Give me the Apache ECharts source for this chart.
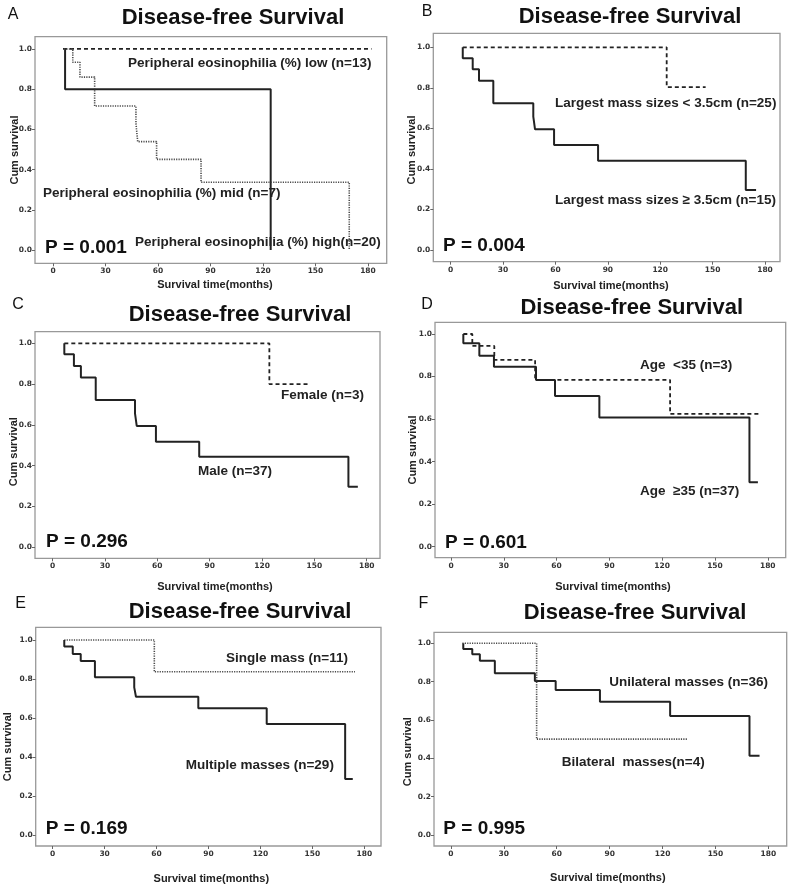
<!DOCTYPE html>
<html><head><meta charset="utf-8">
<script src="https://cdn.jsdelivr.net/npm/echarts@6/dist/echarts.min.js"></script>
<style>html,body{margin:0;padding:0;background:#fff}#c{width:800px;height:889px}</style>
</head><body><div id="c"></div>
<script>
// ---------- tick labels ----------
const xTicks = [0, 30, 60, 90, 120, 150, 180];
const yTicks = [0, 0.2, 0.4, 0.6, 0.8, 1.0];
const panelLetters = ['A', 'B', 'C', 'D', 'E', 'F'];
const panelTitle = 'Disease-free Survival';
const xTitle = 'Survival time(months)';
const yTitle = 'Cum survival';

// ---------- Panel A ----------
const A_low_t  = [5.7, 182];
const A_low_s  = [1.0, 1.0];
const A_mid_t  = [6.9, 6.9, 124.4, 124.4];
const A_mid_s  = [1.0, 0.8, 0.8, 0.0];
const A_high_t = [6.3, 11.3, 15.4, 23.8, 47.4, 48.4, 59.2, 84.6, 169.3];
const A_high_s = [1.0, 0.934, 0.86, 0.716, 0.63, 0.539, 0.451, 0.337, 0.0];
const A_labels = ['Peripheral eosinophilia (%) low (n=13)', 'Peripheral eosinophilia (%) mid (n=7)', 'Peripheral eosinophilia (%) high(n=20)'];
const A_p = 'P = 0.001';

// ---------- Panel B ----------
const B_small_t = [6.9, 123.7, 146];
const B_small_s = [1.0, 0.803, 0.803];
const B_large_t = [6.9, 6.9, 12.6, 16.2, 24.4, 47.3, 48.3, 59.2, 84.4, 169, 174.9];
const B_large_s = [1.0, 0.946, 0.891, 0.835, 0.724, 0.658, 0.595, 0.518, 0.44, 0.296, 0.296];
const B_labels = ['Largest mass sizes < 3.5cm (n=25)', 'Largest mass sizes \u2265 3.5cm (n=15)'];
const B_p = 'P = 0.004';

// ---------- Panel C ----------
const C_female_t = [6.7, 124.2, 146.6];
const C_female_s = [1.0, 0.8, 0.8];
const C_male_t = [6.7, 6.7, 12.2, 16.2, 24.7, 47.2, 48.2, 59.2, 84, 169.5, 174.9];
const C_male_s = [1.0, 0.946, 0.889, 0.833, 0.722, 0.657, 0.595, 0.518, 0.444, 0.297, 0.297];
const C_labels = ['Female (n=3)', 'Male (n=37)'];
const C_p = 'P = 0.296';

// ---------- Panel D ----------
const D_young_t = [7.0, 12.1, 24.6, 47.8, 124.5, 174.7];
const D_young_s = [1.0, 0.944, 0.878, 0.784, 0.624, 0.624];
const D_old_t = [7.0, 7.0, 16.1, 24.4, 48.3, 59.1, 84.3, 169.6, 174.4];
const D_old_s = [1.0, 0.956, 0.898, 0.846, 0.784, 0.708, 0.607, 0.303, 0.303];
const D_labels = ['Age  <35 (n=3)', 'Age  \u226535 (n=37)'];
const D_p = 'P = 0.601';

// ---------- Panel E ----------
const E_single_t = [6.7, 58.7, 174.6];
const E_single_s = [1.0, 0.837, 0.837];
const E_multi_t = [6.7, 6.7, 11.6, 16.2, 24.4, 47.1, 48.1, 84.1, 123.6, 168.9, 173.3];
const E_multi_s = [1.0, 0.966, 0.928, 0.892, 0.809, 0.757, 0.709, 0.65, 0.569, 0.287, 0.287];
const E_labels = ['Single mass (n=11)', 'Multiple masses (n=29)'];
const E_p = 'P = 0.169';

// ---------- Panel F ----------
const F_uni_t = [7.0, 7.0, 12.1, 16.4, 24.9, 47.6, 59.4, 84.5, 124.3, 169.3, 175];
const F_uni_s = [1.0, 0.97, 0.943, 0.909, 0.843, 0.803, 0.756, 0.695, 0.621, 0.414, 0.414];
const F_bi_t = [6.5, 48.6, 134];
const F_bi_s = [1.0, 0.5, 0.5];
const F_labels = ['Unilateral masses (n=36)', 'Bilateral  masses(n=4)'];
const F_p = 'P = 0.995';

// ---------- styles ----------
const FONT = '"Liberation Sans", Arial, sans-serif';
const TICKFONT = '"DejaVu Sans", "Liberation Sans", sans-serif';
const SOLID  = {color: '#222', width: 2, type: 'solid'};
const DASHED = {color: '#222', width: 1.8, type: [4, 3]};
const DOTTED = {color: '#4a4a4a', width: 1.6, type: [1.2, 1.2]};

function pairs(t, s) { return t.map((v, i) => [v, s[i]]); }

// layout per panel: box in pixels + axis extents
const layout = [
  {box:[35, 36.7, 351.7, 226.6], xr:[-10.29, 190.7], yr:[-0.066, 1.061], letter:[13,15], title:[233,18], xt:[215,285], yt:[15,150]},
  {box:[433.3, 33.3, 346.7, 228.4], xr:[-9.97, 188.6], yr:[-0.058, 1.069], letter:[427,12], title:[630,17], xt:[611,286], yt:[412,150]},
  {box:[35, 331.7, 345, 226.6], xr:[-10.1, 187.6], yr:[-0.054, 1.057], letter:[18,305], title:[240,315], xt:[215,587], yt:[14,451.7]},
  {box:[435, 322.3, 350.7, 235.4], xr:[-9.1, 190.2], yr:[-0.052, 1.055], letter:[427,305], title:[631.7,308.3], xt:[613,587], yt:[413,450]},
  {box:[35.7, 627.3, 345.3, 218.7], xr:[-9.8, 189.6], yr:[-0.056, 1.065], letter:[20.7,603.3], title:[240,611.7], xt:[211.3,879], yt:[8.3,746.7]},
  {box:[434, 632.3, 352.7, 213.7], xr:[-9.6, 190.4], yr:[-0.057, 1.057], letter:[423.3,603.3], title:[635,613.3], xt:[607.8,878.3], yt:[408.3,751.7]}
];

const panelSeries = [
  [[A_low_t, A_low_s, DASHED], [A_mid_t, A_mid_s, SOLID], [A_high_t, A_high_s, DOTTED]],
  [[B_small_t, B_small_s, DASHED], [B_large_t, B_large_s, SOLID]],
  [[C_female_t, C_female_s, DASHED], [C_male_t, C_male_s, SOLID]],
  [[D_young_t, D_young_s, DASHED], [D_old_t, D_old_s, SOLID]],
  [[E_single_t, E_single_s, DOTTED], [E_multi_t, E_multi_s, SOLID]],
  [[F_uni_t, F_uni_s, SOLID], [F_bi_t, F_bi_s, DOTTED]]
];

// annotation texts: [text, left x, center y]
const annotations = [
  [A_labels[0], 128, 63], [A_labels[1], 43, 193], [A_labels[2], 135, 242],
  [B_labels[0], 555, 103], [B_labels[1], 555, 200],
  [C_labels[0], 281, 395], [C_labels[1], 198, 471.7],
  [D_labels[0], 640, 365], [D_labels[1], 640, 491],
  [E_labels[0], 226, 658.3], [E_labels[1], 185.7, 765],
  [F_labels[0], 609.3, 682.7], [F_labels[1], 561.7, 762.7]
];
const pvals = [[A_p, 45, 248], [B_p, 443, 246], [C_p, 46, 541.7], [D_p, 445, 543], [E_p, 45.7, 829], [F_p, 443.3, 828.3]];

const grids = [], xAxes = [], yAxes = [], series = [], graphics = [];
layout.forEach((L, i) => {
  grids.push({left: L.box[0], top: L.box[1], width: L.box[2], height: L.box[3],
    show: true, borderColor: '#999', borderWidth: 1.3, backgroundColor: 'transparent', containLabel: false});
  xAxes.push({type: 'value', gridIndex: i, min: L.xr[0], max: L.xr[1], position: 'bottom',
    axisLine: {show: false, onZero: false}, splitLine: {show: false},
    axisTick: {show: true, length: 3, customValues: xTicks, lineStyle: {color: '#666', width: 1}},
    axisLabel: {customValues: xTicks, margin: 4, fontSize: 7.5, fontWeight: 'bold', color: '#333', fontFamily: TICKFONT}});
  yAxes.push({type: 'value', gridIndex: i, min: L.yr[0], max: L.yr[1], position: 'left',
    axisLine: {show: false, onZero: false}, splitLine: {show: false},
    axisTick: {show: true, length: 3, customValues: yTicks, lineStyle: {color: '#666', width: 1}},
    axisLabel: {customValues: yTicks, margin: 3, fontSize: 7.5, fontWeight: 'bold', color: '#333', fontFamily: TICKFONT,
      formatter: v => v.toFixed(1)}});
  panelSeries[i].forEach(([t, s, st]) => {
    series.push({type: 'line', xAxisIndex: i, yAxisIndex: i, step: 'end', symbol: 'none',
      data: pairs(t, s), lineStyle: st, silent: true, animation: false});
  });
  graphics.push({type: 'text', x: L.letter[0], y: L.letter[1],
    style: {text: panelLetters[i], font: '16px ' + FONT, fill: '#111', align: 'center', verticalAlign: 'middle'}});
  graphics.push({type: 'text', x: L.title[0], y: L.title[1],
    style: {text: panelTitle, font: 'bold 22px ' + FONT, fill: '#111', align: 'center', verticalAlign: 'middle'}});
  graphics.push({type: 'text', x: L.xt[0], y: L.xt[1],
    style: {text: xTitle, font: 'bold 11px ' + FONT, fill: '#222', align: 'center', verticalAlign: 'middle'}});
  graphics.push({type: 'text', x: L.yt[0], y: L.yt[1], rotation: Math.PI / 2,
    style: {text: yTitle, font: 'bold 11px ' + FONT, fill: '#222', align: 'center', verticalAlign: 'middle'}});
});
annotations.forEach(([txt, x, y]) => {
  graphics.push({type: 'text', x: x, y: y,
    style: {text: txt, font: 'bold 13.5px ' + FONT, fill: '#222', align: 'left', verticalAlign: 'middle'}});
});
pvals.forEach(([txt, x, y]) => {
  graphics.push({type: 'text', x: x, y: y,
    style: {text: txt, font: 'bold 19px ' + FONT, fill: '#111', align: 'left', verticalAlign: 'middle'}});
});

const chart = echarts.init(document.getElementById('c'), null, {renderer: 'canvas'});
chart.setOption({
  animation: false,
  backgroundColor: '#fff',
  grid: grids, xAxis: xAxes, yAxis: yAxes, series: series,
  graphic: graphics
});
</script></body></html>
